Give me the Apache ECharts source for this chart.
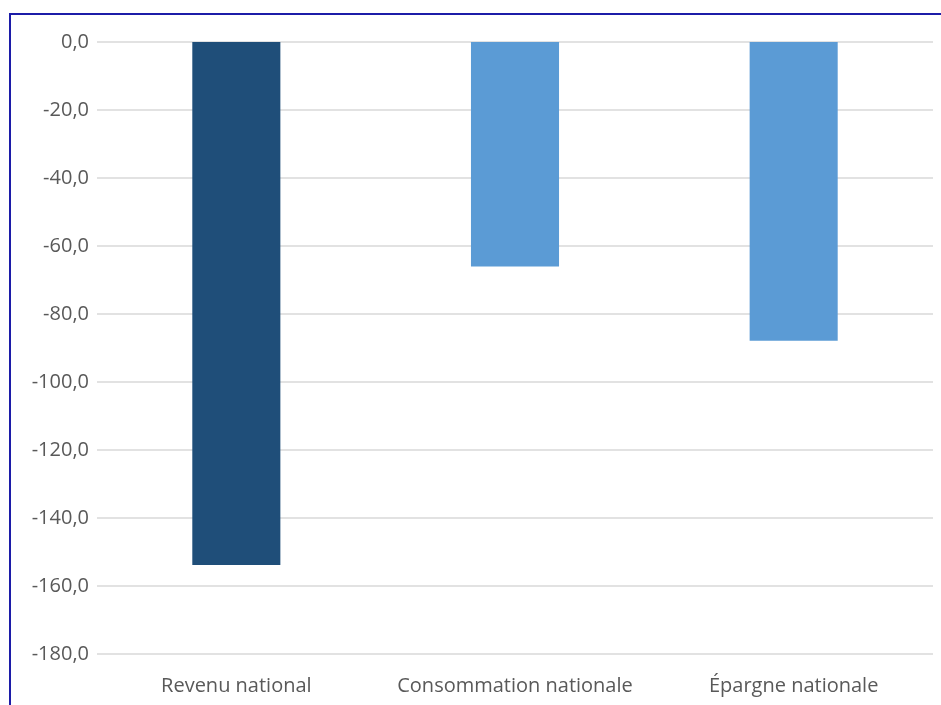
<!DOCTYPE html>
<html>
<head>
<meta charset="utf-8">
<script src="https://cdn.jsdelivr.net/npm/echarts@6/dist/echarts.min.js"></script>
<style>
html,body{margin:0;padding:0;background:#fff;}
#c{width:941px;height:705px;}
</style>
</head>
<body>
<div id="c"></div>
<script>
const categories = ["Revenu national", "Consommation nationale", "Épargne nationale"];
const values = [-153.8, -66.0, -87.9];
const barColors = ["#1F4E79", "#5B9BD5", "#5B9BD5"];
const yTicks = [0, -20, -40, -60, -80, -100, -120, -140, -160, -180];

const chart = echarts.init(document.getElementById('c'), null, {renderer: 'canvas'});
chart.setOption({
  animation: false,
  backgroundColor: '#ffffff',
  graphic: [{
    type: 'rect',
    shape: {x: 10, y: 14, width: 1000, height: 800},
    style: {fill: 'none', stroke: '#1c1ca8', lineWidth: 2},
    silent: true
  }],
  grid: {left: 97, right: 8, top: 42, bottom: 51, containLabel: false},
  xAxis: {
    type: 'category',
    data: categories,
    position: 'bottom',
    axisLine: {show: false},
    axisTick: {show: false},
    axisLabel: {color: '#595959', fontFamily: 'Open Sans', fontSize: 20, margin: 22, interval: 0}
  },
  yAxis: {
    type: 'value',
    min: -180,
    max: 0,
    interval: 20,
    axisLine: {show: false},
    axisTick: {show: false},
    splitLine: {lineStyle: {color: '#d9d9d9', width: 1.5}},
    axisLabel: {
      color: '#595959', fontFamily: 'Open Sans', fontSize: 20, margin: 8,
      formatter: v => v.toFixed(1).replace('.', ',')
    }
  },
  series: [{
    type: 'bar',
    data: values.map((v, i) => ({value: v, itemStyle: {color: barColors[i]}})),
    barWidth: '31.6%'
  }]
});
</script>
</body>
</html>
